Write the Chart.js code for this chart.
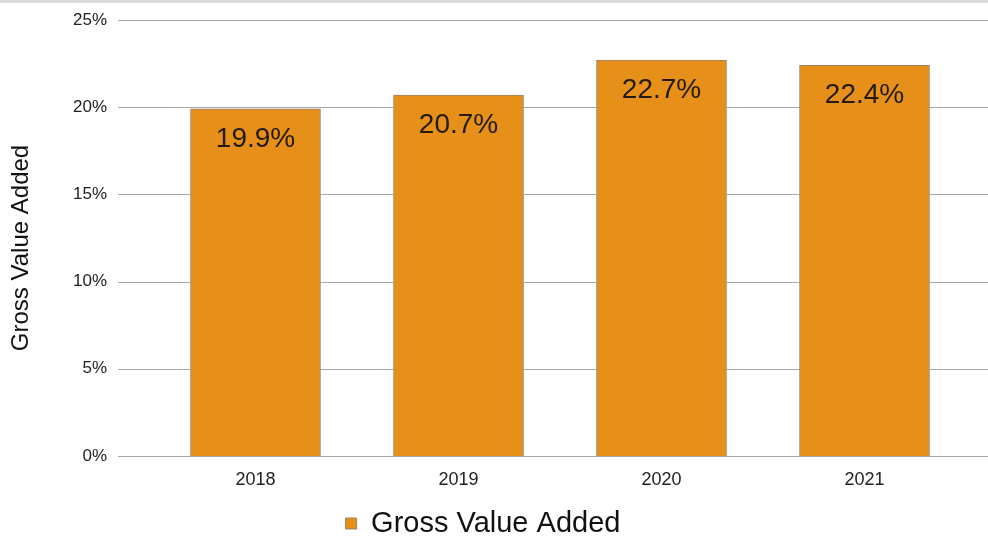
<!DOCTYPE html>
<html>
<head>
<meta charset="utf-8">
<script src="https://cdn.jsdelivr.net/npm/chart.js@4/dist/chart.umd.min.js"></script>
<style>
  body { margin: 0; background: #fff; overflow: hidden; }
  .wrap { width: 988px; height: 545px; border-top: 3px solid #dcdcdc; position: relative; }
</style>
</head>
<body>
<div class="wrap"><canvas id="gva"></canvas></div>
<script>
var years = ['2018', '2019', '2020', '2021'];
var gvaShare = [19.9, 20.7, 22.7, 22.4];
var yTicks = [0, 5, 10, 15, 20, 25];
var seriesName = 'Gross Value Added';

var fontFam = '"Liberation Sans", Arial, sans-serif';

// grid lines run wider than the bars area, so draw them by hand
const wideGrid = {
    id: 'wideGrid',
    beforeDatasetsDraw(chart) {
        const ctx = chart.ctx;
        const y = chart.scales.y;
        ctx.save();
        ctx.strokeStyle = '#a8a8a8';
        ctx.lineWidth = 1;
        yTicks.forEach(v => {
            let py = Math.round(y.getPixelForValue(v)) + 0.5;
            ctx.beginPath();
            ctx.moveTo(118, py);
            ctx.lineTo(988, py);
            ctx.stroke();
        });
        ctx.restore();
    }
};

const barLabels = {
    id: 'barLabels',
    afterDatasetsDraw(chart) {
        const ctx = chart.ctx;
        const meta = chart.getDatasetMeta(0);
        ctx.save();
        ctx.font = '28px ' + fontFam;
        ctx.fillStyle = '#221a10';
        ctx.textAlign = 'center';
        ctx.textBaseline = 'middle';
        meta.data.forEach((bar, i) => {
            ctx.fillText(gvaShare[i].toFixed(1) + '%', bar.x, bar.y + 30);
        });
        ctx.restore();
    }
};

const canvas = document.getElementById('gva');

let gvaChart = new Chart(canvas, {
    type: 'bar',
    data: {
        labels: years,
        datasets: [
            {
                label: seriesName,
                data: gvaShare,
                backgroundColor: '#e69019',
                borderColor: '#9c8468',
                borderWidth: 1,
                barThickness: 130
            }
        ]
    },
    options: {
        responsive: true,
        maintainAspectRatio: false,
        animation: false,
        layout: { padding: { top: 17, right: 22, left: 0, bottom: 0 } },
        plugins: {
            tooltip: { enabled: false },
            legend: {
                position: 'bottom',
                labels: {
                    boxWidth: 11,
                    boxHeight: 11,
                    padding: 10,
                    color: '#111',
                    font: { family: fontFam, size: 29 }
                }
            }
        },
        scales: {
            x: {
                afterFit(scale) { scale.height = 43; },
                grid: { display: false },
                border: { display: false },
                ticks: {
                    color: '#222',
                    padding: 5,
                    font: { family: fontFam, size: 18 }
                }
            },
            y: {
                min: 0,
                max: 25,
                afterFit(scale) {
                    scale.width = 154;
                    scale.paddingTop = 0;
                    scale.paddingBottom = 0;
                },
                grid: { display: false },
                border: { display: false },
                ticks: {
                    stepSize: 5,
                    padding: 39,
                    color: '#222',
                    font: { family: fontFam, size: 17 },
                    callback: v => v + '%'
                },
                title: {
                    display: true,
                    text: seriesName + '   ',
                    color: '#111',
                    padding: { top: 7, bottom: 0 },
                    font: { family: fontFam, size: 24 }
                }
            }
        }
    },
    plugins: [wideGrid, barLabels]
});
</script>
</body>
</html>
